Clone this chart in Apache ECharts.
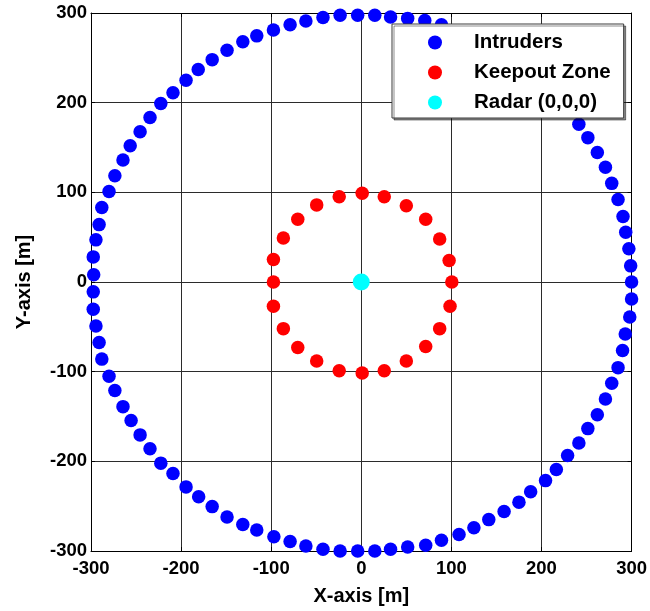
<!DOCTYPE html>
<html>
<head>
<meta charset="utf-8">
<title>Intruders and Keepout Zone</title>
<script src="https://cdn.jsdelivr.net/npm/echarts@6/dist/echarts.min.js"></script>
<style>
  html, body { margin: 0; padding: 0; background: #fff; }
  #chart { width: 650px; height: 611px; }
</style>
</head>
<body>
<div id="chart"></div>
<script>
// Intruder positions on the outer ring [x, y] in metres
const intruders = [
  [300, 0], [299, 18], [297, 37], [293.5, 55.5], [290.5, 73], [285, 92], [278, 110],
  [271, 128], [262, 144.5], [251.5, 161], [241.5, 176],
  [89, 287], [70.5, 291.5], [51.5, 294], [32.5, 295.5], [15, 297.5], [-4, 297.5],
  [-23.5, 297.5], [-42.5, 295], [-61.5, 291], [-79, 287], [-97.5, 281], [-116, 274.5],
  [-131.5, 268], [-149, 258.5], [-165.5, 248], [-181, 237], [-194.5, 225], [-209, 211],
  [-222.5, 199], [-234.5, 183.5], [-245.5, 167.5], [-256.5, 152], [-264.5, 136],
  [-273.5, 118.5], [-280, 101], [-288, 83], [-291, 64], [-294.5, 47], [-297.5, 28],
  [-297, 8], [-297.5, -11], [-297.5, -30.5], [-294.5, -49], [-291, -67.5], [-288, -86],
  [-280, -105], [-273.5, -121], [-264.5, -139], [-255.5, -154.5], [-245.5, -170.5],
  [-234.5, -186], [-222.5, -202], [-209, -213.5], [-194.5, -228.5], [-180.5, -239.5],
  [-165.5, -250.5], [-149, -262], [-131.5, -270.5], [-116, -276.5], [-97, -284],
  [-79, -289.5], [-61.5, -294.5], [-42.5, -298], [-23.5, -300], [-4, -300], [15, -300],
  [32.5, -298], [51.5, -295.5], [71.5, -293.5], [89, -288], [108.5, -281.5], [125, -274],
  [141.5, -265], [158.5, -256], [175, -245.5], [188, -234], [204.5, -221.5], [216.5, -209],
  [229, -193.5], [241.5, -179.5], [251.5, -163.5], [262, -148], [271, -130.5],
  [278, -113], [285, -95.5], [290, -76.5], [293, -58], [298, -39], [300, -19]
];

// Keepout zone boundary points [x, y] in metres
const keepout = [
  [100.5, 0], [97.5, 24], [87, 48], [71.5, 70], [50, 85], [25.5, 95], [1, 99],
  [-24.5, 95], [-49.5, 86], [-70.5, 70], [-86.5, 49], [-97.5, 25], [-97.5, 0],
  [-97.5, -27], [-86.5, -52], [-70.5, -73], [-49.5, -88], [-24.5, -99], [1, -101.5],
  [25.5, -99], [50, -88], [71.5, -72], [87, -52], [98.5, -27]
];

// Radar location
const radar = [[0, 0]];

// Axis range and tick spacing
const axisMin = -300;
const axisMax = 300;
const tickStep = 100;

const seriesNames = ['Intruders', 'Keepout Zone', 'Radar (0,0,0)'];

const FONT = '"Liberation Sans", Arial, Helvetica, sans-serif';

const chart = echarts.init(document.getElementById('chart'), null, { renderer: 'canvas' });

const gridLine = { show: true, lineStyle: { color: '#2b2b2b', width: 1 } };
const frameLine = { show: true, onZero: false, lineStyle: { color: '#000', width: 1 } };
const innerTick = { show: true, inside: true, length: 4, lineStyle: { color: '#000' } };

chart.setOption({
  animation: false,
  backgroundColor: '#fff',
  grid: { left: 91, top: 13, width: 541, height: 539, containLabel: false },
  legend: {
    orient: 'vertical',
    left: 392,
    top: 24,
    z: 10,
    data: seriesNames,
    icon: 'circle',
    itemWidth: 14,
    itemHeight: 14,
    itemGap: 9,
    padding: [8, 13, 5, 36],
    backgroundColor: '#fff',
    borderColor: '#3a3a3a',
    borderWidth: 1,
    shadowColor: 'rgba(0,0,0,0.45)',
    shadowBlur: 0,
    shadowOffsetX: 2,
    shadowOffsetY: 2,
    textStyle: {
      fontFamily: FONT,
      fontWeight: 'bold',
      fontSize: 20.5,
      color: '#000',
      lineHeight: 21,
      padding: [0, 0, 0, 27]
    }
  },
  xAxis: [
    {
      type: 'value', position: 'bottom', min: axisMin, max: axisMax, interval: tickStep,
      name: 'X-axis [m]', nameLocation: 'middle', nameGap: 35,
      nameTextStyle: { fontFamily: FONT, fontWeight: 'bold', fontSize: 20, color: '#000' },
      axisLine: frameLine, axisTick: innerTick, splitLine: gridLine,
      axisLabel: { fontFamily: FONT, fontWeight: 'bold', fontSize: 18.5, color: '#000', margin: 8 }
    },
    {
      type: 'value', position: 'top', min: axisMin, max: axisMax, interval: tickStep,
      axisLine: frameLine, axisTick: innerTick, splitLine: { show: false }, axisLabel: { show: false }
    }
  ],
  yAxis: [
    {
      type: 'value', position: 'left', min: axisMin, max: axisMax, interval: tickStep,
      name: 'Y-axis [m]', nameLocation: 'middle', nameGap: 57,
      nameTextStyle: { fontFamily: FONT, fontWeight: 'bold', fontSize: 20, color: '#000' },
      axisLine: frameLine, axisTick: innerTick, splitLine: gridLine,
      axisLabel: { fontFamily: FONT, fontWeight: 'bold', fontSize: 18.5, color: '#000', margin: 4 }
    },
    {
      type: 'value', position: 'right', min: axisMin, max: axisMax, interval: tickStep,
      axisLine: frameLine, axisTick: innerTick, splitLine: { show: false }, axisLabel: { show: false }
    }
  ],
  series: [
    {
      name: seriesNames[0], type: 'scatter', data: intruders,
      symbol: 'circle', symbolSize: 13.5, itemStyle: { color: '#0000ff', opacity: 1 }, z: 3
    },
    {
      name: seriesNames[1], type: 'scatter', data: keepout,
      symbol: 'circle', symbolSize: 13.5, itemStyle: { color: '#ff0000', opacity: 1 }, z: 3
    },
    {
      name: seriesNames[2], type: 'scatter', data: radar,
      symbol: 'circle', symbolSize: 17, itemStyle: { color: '#00ffff', opacity: 1 }, z: 3
    }
  ]
});
</script>
</body>
</html>
